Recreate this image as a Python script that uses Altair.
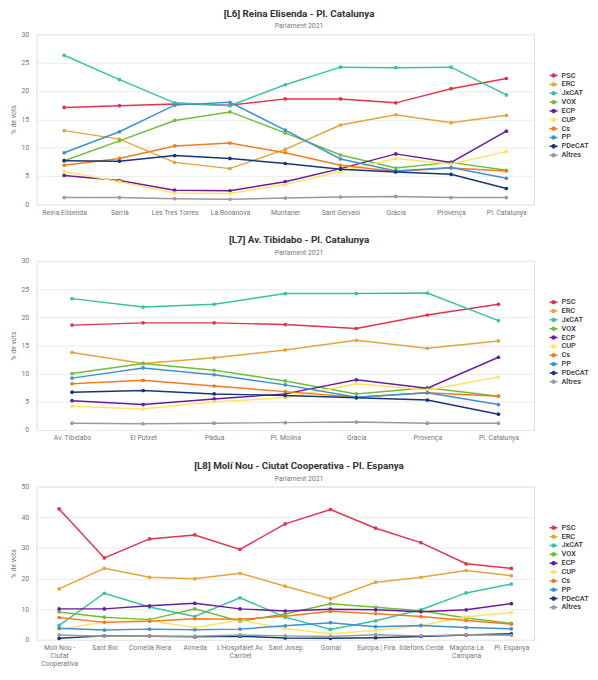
import altair as alt
import pandas as pd

PARTIES = ["PSC", "ERC", "JxCAT", "VOX", "ECP", "CUP", "Cs", "PP", "PDeCAT", "Altres"]
COLORS = ["#e2334c", "#e5a53a", "#35c3a0", "#6dbf38", "#6a1b9a", "#ffe26a",
          "#f47a20", "#3e90d2", "#17357a", "#9a9a9a"]

# ---- [L6] Reina Elisenda - Pl. Catalunya
L6_STOPS = ["Reina Elisenda", "Sarrià", "Les Tres Torres", "La Bonanova", "Muntaner",
            "Sant Gervasi", "Gràcia", "Provença", "Pl. Catalunya"]
L6_PSC = [17.1, 17.4, 17.7, 17.5, 18.6, 18.6, 17.9, 20.4, 22.2]
L6_ERC = [13.0, 11.5, 7.4, 6.3, 9.7, 14.0, 15.8, 14.4, 15.7]
L6_JXCAT = [26.3, 22.0, 17.9, 17.4, 21.1, 24.2, 24.1, 24.2, 19.3]
L6_VOX = [7.7, 11.2, 14.8, 16.3, 12.6, 8.7, 6.4, 7.4, 6.0]
L6_ECP = [5.1, 4.2, 2.5, 2.4, 4.0, 6.3, 8.9, 7.4, 12.9]
L6_CUP = [5.8, 4.0, 2.0, 1.9, 3.5, 5.8, 8.1, 7.1, 9.3]
L6_CS = [6.9, 8.1, 10.3, 10.8, 9.1, 6.9, 5.8, 6.4, 5.9]
L6_PP = [9.1, 12.8, 17.5, 18.0, 13.1, 8.0, 5.9, 6.5, 4.6]
L6_PDECAT = [7.7, 7.6, 8.6, 8.1, 7.2, 6.2, 5.7, 5.3, 2.8]
L6_ALTRES = [1.2, 1.2, 1.0, 0.9, 1.1, 1.3, 1.4, 1.2, 1.2]

# ---- [L7] Av. Tibidabo - Pl. Catalunya
L7_STOPS = ["Av. Tibidabo", "El Putxet", "Pàdua", "Pl. Molina", "Gràcia", "Provença",
            "Pl. Catalunya"]
L7_PSC = [18.6, 19.0, 19.0, 18.7, 18.0, 20.4, 22.3]
L7_ERC = [13.75, 11.8, 12.8, 14.2, 15.9, 14.5, 15.8]
L7_JXCAT = [23.3, 21.8, 22.3, 24.2, 24.2, 24.3, 19.4]
L7_VOX = [10.0, 11.8, 10.6, 8.7, 6.4, 7.5, 6.0]
L7_ECP = [5.2, 4.5, 5.5, 6.4, 8.9, 7.4, 12.9]
L7_CUP = [4.2, 3.7, 5.0, 5.7, 8.2, 7.1, 9.4]
L7_CS = [8.2, 8.8, 7.8, 6.8, 5.8, 6.6, 6.0]
L7_PP = [9.2, 11.0, 9.8, 8.0, 5.8, 6.6, 4.5]
L7_PDECAT = [6.7, 7.0, 6.4, 6.1, 5.7, 5.3, 2.8]
L7_ALTRES = [1.2, 1.1, 1.2, 1.3, 1.4, 1.2, 1.2]

# ---- [L8] Molí Nou - Ciutat Cooperativa - Pl. Espanya
L8_STOPS = ["Molí Nou -\nCiutat\nCooperativa", "Sant Boi", "Cornellà Riera", "Almeda",
            "L'Hospitalet Av.\nCarrilet", "Sant Josep", "Gornal", "Europa | Fira",
            "Ildefons Cerdà", "Magòria La\nCampana", "Pl. Espanya"]
L8_PSC = [42.7, 26.7, 32.9, 34.2, 29.5, 37.8, 42.5, 36.4, 31.7, 24.8, 23.3]
L8_ERC = [16.6, 23.3, 20.4, 19.9, 21.7, 17.5, 13.4, 18.8, 20.4, 22.6, 20.9]
L8_JXCAT = [4.7, 15.2, 10.7, 7.6, 13.7, 7.4, 3.4, 6.2, 9.8, 15.3, 18.2]
L8_VOX = [9.1, 7.4, 6.6, 10.1, 6.1, 8.4, 11.8, 10.6, 9.5, 7.1, 5.4]
L8_ECP = [10.1, 10.1, 11.1, 11.9, 10.1, 9.4, 10.0, 9.8, 9.2, 9.8, 11.8]
L8_CUP = [3.3, 5.9, 6.2, 4.0, 6.4, 3.7, 2.0, 3.1, 4.6, 7.5, 8.9]
L8_CS = [7.3, 5.7, 6.1, 6.9, 6.7, 7.7, 9.3, 8.5, 7.6, 6.3, 5.1]
L8_PP = [3.8, 3.2, 3.5, 3.3, 3.5, 4.6, 5.6, 4.3, 4.7, 4.0, 3.6]
L8_PDECAT = [0.5, 1.3, 1.2, 1.0, 1.2, 0.6, 0.5, 0.7, 1.1, 1.6, 2.0]
L8_ALTRES = [1.6, 1.2, 1.2, 1.2, 1.6, 1.3, 1.1, 1.7, 1.3, 1.7, 1.5]

FONT = "Roboto"
SYMBOL = "M-1.35,0L1.35,0M-0.5,0A0.5,0.5,0,1,1,0.5,0A0.5,0.5,0,1,1,-0.5,0Z"


def build_df(stops, series):
    rows = []
    for party, vals in zip(PARTIES, series):
        for stop, v in zip(stops, vals):
            rows.append({"stop": stop, "party": party, "value": v})
    return pd.DataFrame(rows)


def panel(title, stops, series, ymax, ystep, height):
    df = build_df(stops, series)
    base = alt.Chart(df).encode(
        x=alt.X("stop:N", sort=stops,
                scale=alt.Scale(type="point", padding=0.5),
                axis=alt.Axis(title=None, labelAngle=0, domain=False, ticks=False,
                              grid=False, labelPadding=4, labelFontSize=7,
                              labelColor="#777777", labelFont=FONT,
                              labelLineHeight=8, labelLimit=80,
                              labelExpr="split(datum.label, '\\n')")),
        y=alt.Y("value:Q", scale=alt.Scale(domain=[0, ymax], nice=False),
                axis=alt.Axis(title="% de vots", values=list(range(0, ymax + 1, ystep)),
                              domain=False, ticks=False, labelPadding=8,
                              labelFontSize=7, labelColor="#777777", labelFont=FONT,
                              titleFontSize=7, titleColor="#777777", titleFont=FONT,
                              titleFontWeight="normal", titlePadding=5,
                              gridColor="#ebebeb", gridWidth=1)),
        color=alt.Color("party:N", sort=PARTIES,
                        scale=alt.Scale(domain=PARTIES, range=COLORS),
                        legend=alt.Legend(title=None, orient="none", legendX=522,
                                          legendY=38, labelFontSize=7.5,
                                          labelFont=FONT, labelFontWeight=500,
                                          labelColor="#333333", padding=0,
                                          rowPadding=-2.8, labelOffset=4,
                                          symbolType=SYMBOL,
                                          symbolSize=36, symbolStrokeWidth=1.5)),
    )
    lines = base.mark_line(strokeWidth=1.5)
    pts = base.mark_circle(size=14, opacity=1)
    return alt.layer(lines, pts).properties(
        width=506, height=height,
        title=alt.TitleParams(title, subtitle="Parlament 2021", font=FONT,
                              fontSize=10, fontWeight="bold", color="#333333",
                              subtitleFont=FONT, subtitleFontSize=7,
                              subtitleColor="#777777", subtitlePadding=4,
                              anchor="middle", frame="bounds", offset=1),
    )


p6 = panel("[L6] Reina Elisenda - Pl. Catalunya", L6_STOPS,
           [L6_PSC, L6_ERC, L6_JXCAT, L6_VOX, L6_ECP, L6_CUP, L6_CS, L6_PP, L6_PDECAT, L6_ALTRES],
           30, 5, 173)
p7 = panel("[L7] Av. Tibidabo - Pl. Catalunya", L7_STOPS,
           [L7_PSC, L7_ERC, L7_JXCAT, L7_VOX, L7_ECP, L7_CUP, L7_CS, L7_PP, L7_PDECAT, L7_ALTRES],
           30, 5, 172)
p8 = panel("[L8] Molí Nou - Ciutat Cooperativa - Pl. Espanya", L8_STOPS,
           [L8_PSC, L8_ERC, L8_JXCAT, L8_VOX, L8_ECP, L8_CUP, L8_CS, L8_PP, L8_PDECAT, L8_ALTRES],
           50, 10, 156)

chart = alt.vconcat(p6, p7, p8, spacing=18.5).resolve_scale(color="independent").properties(
    padding={"left": 0, "top": -6, "right": 0, "bottom": 0}
).configure_view(stroke=None).configure(background="white")

chart.save("out.html", embed_options={"renderer": "svg", "actions": False})
